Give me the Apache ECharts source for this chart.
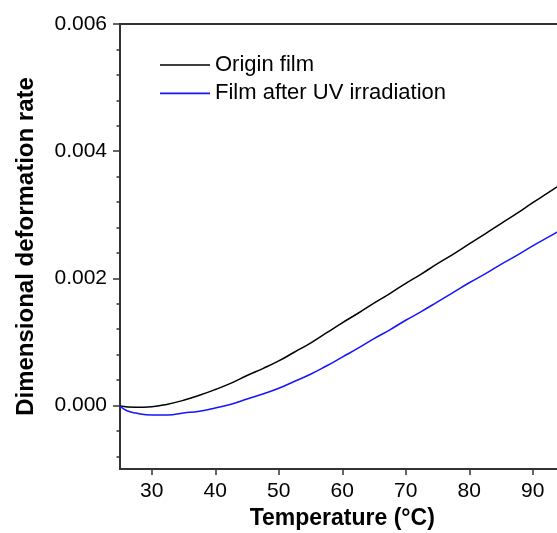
<!DOCTYPE html>
<html>
<head>
<meta charset="utf-8">
<script src="https://cdn.jsdelivr.net/npm/echarts@6/dist/echarts.min.js"></script>
<style>html,body{margin:0;padding:0;background:#fff}#c{width:557px;height:533px}</style>
</head>
<body>
<div id="c"></div>
<script>
// Data
var originTemps = [25, 27.5, 30, 32.5, 35, 37.5, 40, 42.5, 45, 47.5, 50, 52.5, 55, 57.5, 60, 62.5, 65, 67.5, 70, 72.5, 75, 77.5, 80, 82.5, 85, 87.5, 90, 92.5, 95];
var originFilm = [-0.00001, -0.00003, -0.00002, 0.00002, 0.00008, 0.00016, 0.00025, 0.00035, 0.00047, 0.00058, 0.00070, 0.00084, 0.00098, 0.00114, 0.00130, 0.00145, 0.00161, 0.00176, 0.00192, 0.00207, 0.00223, 0.00238, 0.00254, 0.00270, 0.00286, 0.00302, 0.00319, 0.00335, 0.00352];
var uvTemps = [25, 26, 27.5, 30, 32.5, 35, 37.5, 40, 42.5, 45, 47.5, 50, 52.5, 55, 57.5, 60, 62.5, 65, 67.5, 70, 72.5, 75, 77.5, 80, 82.5, 85, 87.5, 90, 92.5, 95];
var uvFilm = [-0.00001, -0.00008, -0.00012, -0.00015, -0.00015, -0.00012, -0.00009, -0.00004, 0.00002, 0.00010, 0.00018, 0.00027, 0.00038, 0.00049, 0.00062, 0.00076, 0.00090, 0.00105, 0.00119, 0.00134, 0.00148, 0.00163, 0.00178, 0.00193, 0.00207, 0.00222, 0.00236, 0.00251, 0.00265, 0.00280];
var xTickValues = [30, 40, 50, 60, 70, 80, 90];
var yTickValues = [0, 0.002, 0.004, 0.006];
var yMinorTickValues = [-0.0008, -0.0004, 0.0004, 0.0008, 0.0012, 0.0016, 0.0024, 0.0028, 0.0032, 0.0036, 0.0044, 0.0048, 0.0052, 0.0056];
var seriesNames = ['Origin film', 'Film after UV irradiation'];
var seriesColors = ['#000000', '#1414ff'];

function pairs(xs, ys) { return xs.map(function (x, i) { return [x, ys[i]]; }); }

var FONT = "'Liberation Sans', Arial, sans-serif";
var AX = '#333';
var chart = echarts.init(document.getElementById('c'), null, { renderer: 'canvas' });
chart.setOption({
  animation: false,
  backgroundColor: '#fff',
  textStyle: { fontFamily: FONT, color: '#000' },
  grid: {
    left: 120, top: 24, right: -7.5, bottom: 64,
    show: true, borderColor: AX, borderWidth: 2, backgroundColor: 'transparent',
    outerBoundsMode: 'none'
  },
  legend: {
    orient: 'vertical', left: 160, top: 54, padding: 0,
    itemWidth: 50, itemHeight: 1.6, itemGap: 6.4,
    icon: 'rect',
    textStyle: { fontSize: 22, lineHeight: 22, fontFamily: FONT, color: '#000' },
    data: seriesNames.map(function (n, i) {
      return { name: n, icon: 'rect', itemStyle: { color: seriesColors[i], borderWidth: 0 } };
    })
  },
  xAxis: {
    type: 'value', min: 25, max: 95,
    name: 'Temperature (°C)', nameLocation: 'middle', nameGap: 38,
    nameTextStyle: { fontSize: 23, fontWeight: 'bold', fontFamily: FONT, color: '#000' },
    axisLine: { show: true, onZero: false, lineStyle: { color: AX, width: 2 } },
    axisTick: { show: true, inside: false, length: 6, customValues: xTickValues, lineStyle: { color: AX, width: 1.5 } },
    axisLabel: { customValues: xTickValues, fontSize: 21, margin: 12, color: '#000', fontFamily: FONT },
    splitLine: { show: false }
  },
  yAxis: [{
    type: 'value', min: -0.001, max: 0.006, position: 'left',
    name: 'Dimensional deformation rate', nameLocation: 'middle', nameGap: 82,
    nameTextStyle: { fontSize: 24, fontWeight: 'bold', fontFamily: FONT, color: '#000' },
    axisLine: { show: true, onZero: false, lineStyle: { color: AX, width: 2 } },
    axisTick: { show: true, inside: false, length: 7, customValues: yTickValues, lineStyle: { color: AX, width: 1.5 } },
    axisLabel: { customValues: yTickValues, fontSize: 21, margin: 13, color: '#000', fontFamily: FONT,
      formatter: function (v) { return v.toFixed(3); } },
    splitLine: { show: false }
  }, {
    type: 'value', min: -0.001, max: 0.006, position: 'left', offset: 0,
    axisLine: { show: false },
    axisTick: { show: true, inside: false, length: 3.5, customValues: yMinorTickValues, lineStyle: { color: AX, width: 1.5 } },
    axisLabel: { show: false },
    splitLine: { show: false }
  }],
  series: [{
    name: seriesNames[0], type: 'line', yAxisIndex: 0,
    data: pairs(originTemps, originFilm), smooth: 0.5,
    symbol: 'none', lineStyle: { color: seriesColors[0], width: 1.5 }, itemStyle: { color: seriesColors[0] }
  }, {
    name: seriesNames[1], type: 'line', yAxisIndex: 0,
    data: pairs(uvTemps, uvFilm), smooth: 0.5,
    symbol: 'none', lineStyle: { color: seriesColors[1], width: 1.5 }, itemStyle: { color: seriesColors[1] }
  }]
});
</script>
</body>
</html>
